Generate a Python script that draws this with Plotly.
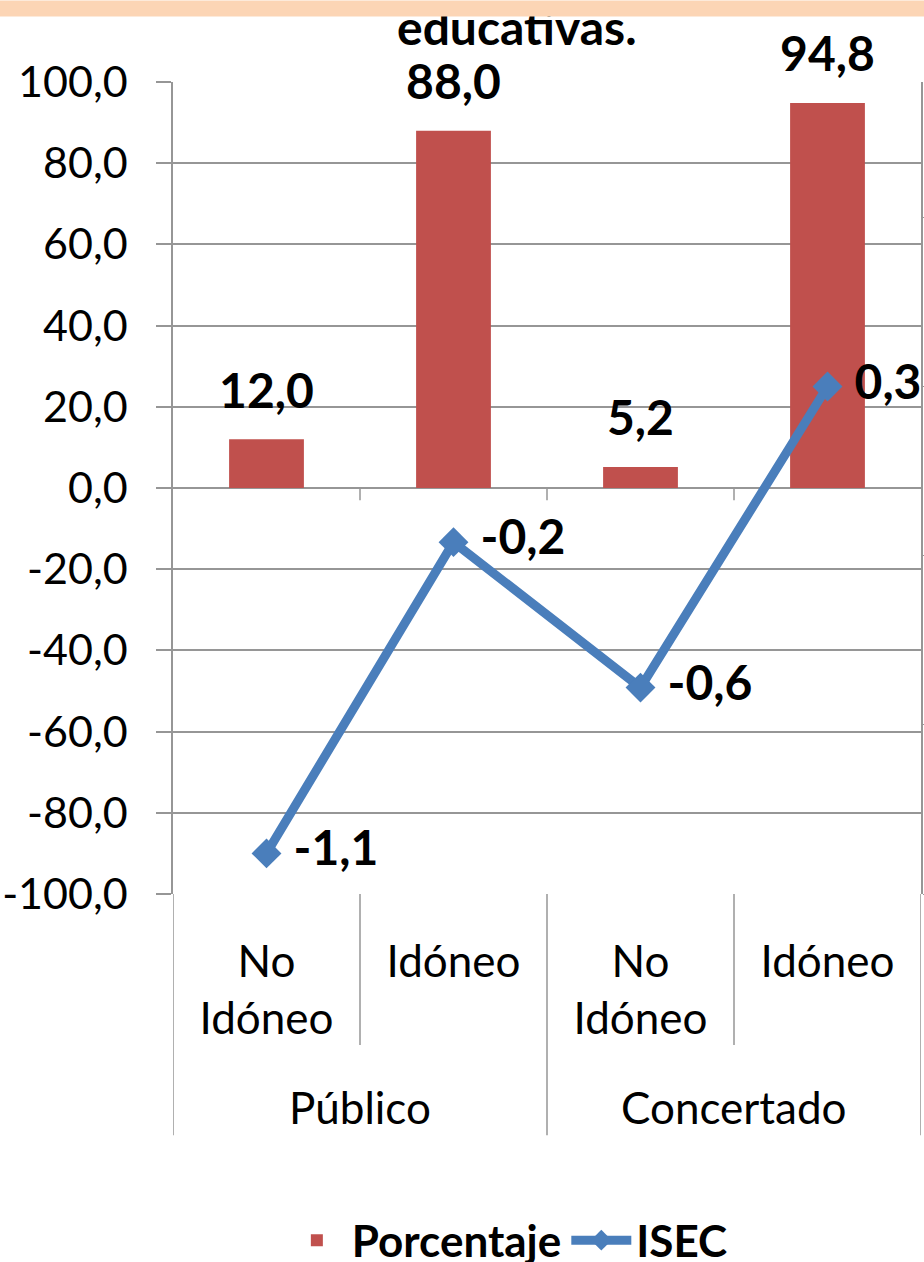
import plotly.graph_objects as go

# ---- data ----
grupos = ["Público", "Público", "Concertado", "Concertado"]
categorias = ["No<br>Idóneo", "Idóneo", "No<br>Idóneo", "Idóneo"]
porcentaje = [12.0, 88.0, 5.2, 94.8]
isec = [-1.08, -0.16, -0.59, 0.30]
y_ticks = [-100, -80, -60, -40, -20, 0, 20, 40, 60, 80, 100]
titulo = "educativas."
serie_barras = "Porcentaje"
serie_linea = "ISEC"


def fmt(v):
    return f"{v:.1f}".replace(".", ",")


x = list(range(len(categorias)))
FONT = "Lato"
GRID = "#969696"
RED = "#C0504D"
BLUE = "#4A7EBB"

fig = go.Figure()

fig.add_trace(go.Bar(
    x=x, y=porcentaje, name=serie_barras, marker=dict(color=RED, line=dict(width=0)),
    width=0.4, yaxis="y",
))
# bar value labels
fig.add_trace(go.Scatter(
    x=x, y=porcentaje, mode="markers+text", showlegend=False,
    marker=dict(size=30, opacity=0), text=[fmt(v) for v in porcentaje],
    textposition="top center", cliponaxis=False,
    textfont=dict(family=FONT, size=48, color="black", weight="bold"),
    hoverinfo="skip", yaxis="y",
))
fig.add_trace(go.Scatter(
    x=x, y=isec, name=serie_linea, mode="lines+markers+text", yaxis="y2",
    line=dict(color=BLUE, width=9), marker=dict(symbol="diamond", size=23, color=BLUE),
    text=["\u00a0" + fmt(v) for v in isec], textposition="middle right", cliponaxis=False,
    textfont=dict(family=FONT, size=48, color="black", weight="bold"),
))

n = len(categorias)
bounds = [i - 0.5 for i in range(n + 1)]
group_bounds = [-0.5] + [i + 0.5 for i in range(n - 1) if grupos[i] != grupos[i + 1]] + [n - 0.5]

shapes = []
for b in bounds:
    if b in group_bounds:
        shapes.append(dict(type="line", xref="x", yref="paper", x0=b, x1=b, y0=0, y1=-0.297,
                           line=dict(color=GRID, width=1.5), layer="below"))
    else:
        shapes.append(dict(type="line", xref="x", yref="paper", x0=b, x1=b, y0=0, y1=-0.186,
                           line=dict(color=GRID, width=1.5), layer="below"))
for b in bounds[1:-1]:
    shapes.append(dict(type="line", xref="x", yref="y", x0=b, x1=b, y0=0, y1=-3,
                       line=dict(color=GRID, width=1.5)))

annotations = []
# title (partly hidden by band)
annotations.append(dict(text=titulo, xref="paper", yref="paper", x=0.46, y=1.031,
                        xanchor="center", yanchor="bottom", showarrow=False,
                        font=dict(family=FONT, size=48, color="black", weight="bold")))
# group labels
seen = []
for g in grupos:
    if g not in seen:
        seen.append(g)
for g in seen:
    idx = [i for i, gg in enumerate(grupos) if gg == g]
    annotations.append(dict(text=g, xref="x", yref="paper", x=sum(idx) / len(idx), y=-0.262,
                            xanchor="center", yanchor="middle", showarrow=False,
                            font=dict(family=FONT, size=44, color="black")))
# peach band at top
annotations.append(dict(text=" ", xref="paper", yref="paper", x=(462 - 173) / 748, y=894 / 812,
                        xanchor="center", yanchor="top", showarrow=False, width=930, height=15,
                        borderpad=0, bgcolor="#FCD5B5", font=dict(size=4)))

fig.update_layout(
    width=924, height=1262,
    margin=dict(l=173, r=3, t=82, b=368, autoexpand=False),
    paper_bgcolor="white", plot_bgcolor="white",
    font=dict(family=FONT, size=43, color="black"),
    showlegend=True,
    legend=dict(orientation="h", x=0.447, y=0.017, xref="paper", yref="container",
                xanchor="center", yanchor="middle", itemwidth=60,
                font=dict(family=FONT, size=44, color="black", weight="bold"),
                bgcolor="rgba(0,0,0,0)"),
    xaxis=dict(range=[-0.5, n - 0.5], tickvals=x, ticktext=categorias, ticks="",
               showgrid=False, zeroline=False, showline=False,
               tickfont=dict(family=FONT, size=44, color="black"), ticklabelstandoff=38),
    yaxis=dict(range=[-100, 100], tickvals=y_ticks, ticktext=[fmt(v) for v in y_ticks],
               showgrid=True, gridcolor=GRID, gridwidth=1.5, zeroline=True, zerolinecolor=GRID,
               zerolinewidth=1.5, showline=True, linecolor=GRID, linewidth=1.5,
               ticks="outside", ticklen=15, tickcolor=GRID, tickwidth=1.5,
               ticklabelstandoff=20, tickfont=dict(family=FONT, size=43, color="black")),
    yaxis2=dict(range=[-1.2, 1.2], overlaying="y", side="right", showgrid=False, zeroline=False,
                showline=True, linecolor=GRID, linewidth=1.5, showticklabels=False,
                ticks="outside", ticklen=6, tickcolor=GRID, tick0=-1.2, dtick=0.5),
    shapes=shapes, annotations=annotations,
    bargap=0.6,
)

fig.write_html("out.html", config={"displayModeBar": False},
               post_script="document.body.style.margin='0';")
